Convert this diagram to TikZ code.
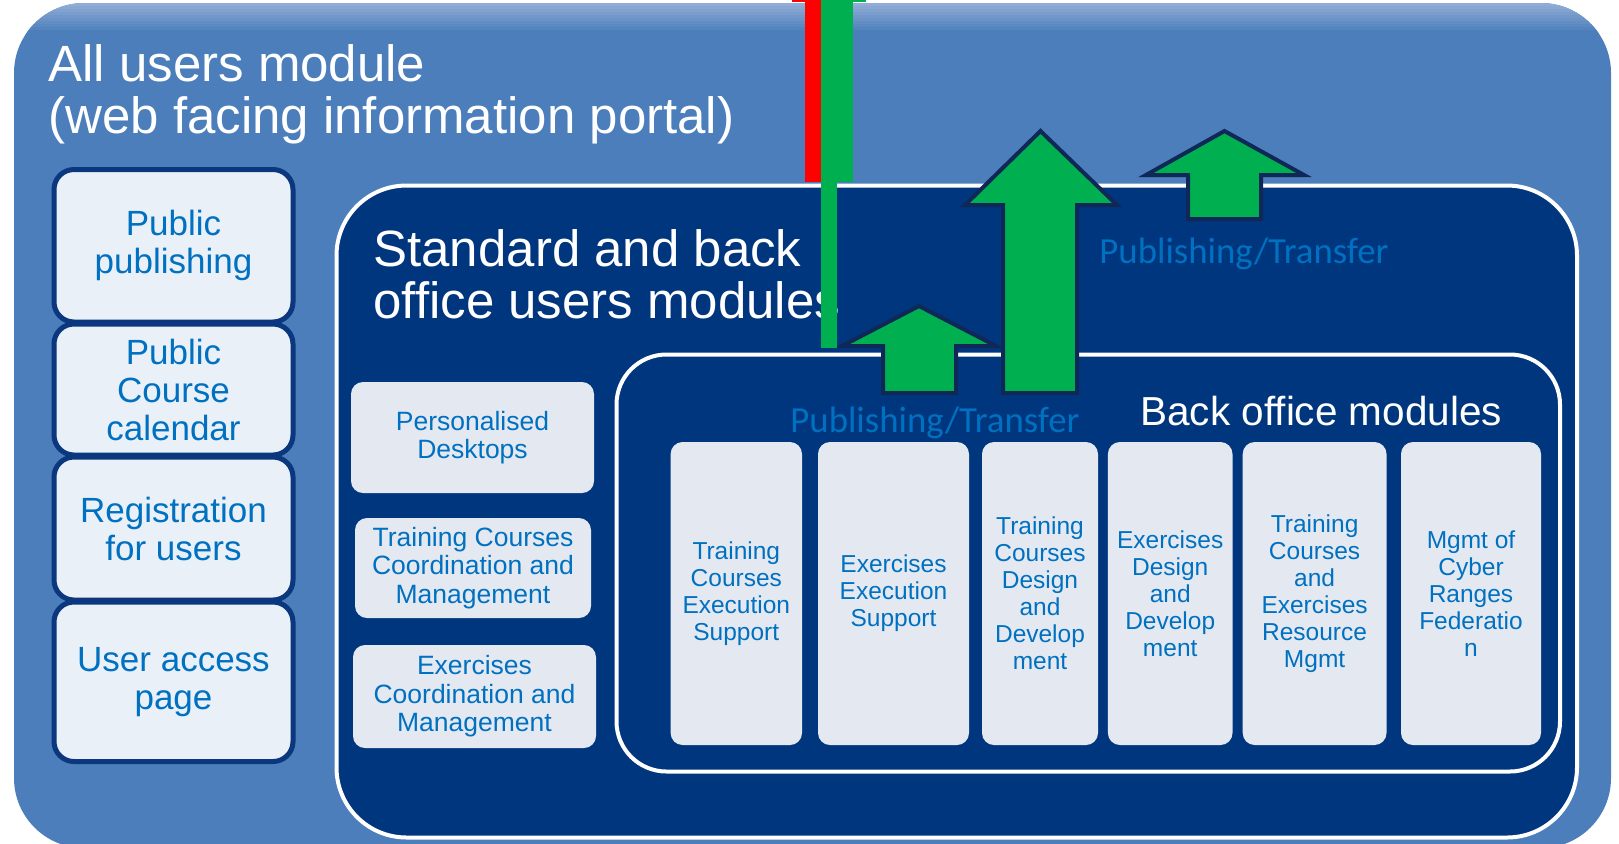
\documentclass[tikz,border=0pt]{standalone}
\usepackage{fontspec}
\setmainfont{Liberation Sans}
\newfontfamily\pubfont{Carlito}
\usepackage{tikz}
\definecolor{portalblue}{RGB}{75,126,186}
\definecolor{portaltop}{RGB}{145,172,214}
\definecolor{officenavy}{RGB}{0,54,126}
\definecolor{tileface}{RGB}{228,233,241}
\definecolor{pageface}{RGB}{234,240,248}
\definecolor{tiletext}{RGB}{0,112,192}
\definecolor{framenavy}{RGB}{10,55,125}
\definecolor{pubgreen}{RGB}{0,176,80}
\definecolor{arrowline}{RGB}{16,40,88}
\definecolor{markred}{RGB}{255,0,0}

\begin{document}
\begin{tikzpicture}[x=0.5pt,y=-0.5pt,
  pagebox/.style={draw=framenavy, line width=2.5pt, fill=pageface, rounded corners=10pt, minimum width=119.5pt, inner sep=2pt, text=tiletext, align=center, font=\fontsize{17.5}{19}\selectfont},
  deskbox/.style={fill=tileface, rounded corners=6pt, inner sep=2pt, text=tiletext, align=center, font=\fontsize{13.25}{14.2}\selectfont},
  backbox/.style={fill=tileface, rounded corners=6pt, minimum height=151.5pt, inner sep=2pt, text=tiletext, align=center, font=\fontsize{12.25}{13.5}\selectfont},
  flowarrow/.style={fill=pubgreen, draw=arrowline, line width=2pt, line join=miter},
  flowlabel/.style={anchor=base west, inner sep=0pt, text=tiletext, font=\pubfont\fontsize{18.4}{20}\selectfont},
  heading/.style={text=white, inner sep=0pt}]
\useasboundingbox (0,0) rectangle (1619,843);
\fill[white] (0,0) rectangle (1619,843);

% All users module
\node[fill=portalblue, rounded corners=35pt, minimum width=798.5pt, minimum height=422.5pt] (allusers) at (812.5,425.5) {};
\begin{scope}
  \clip[rounded corners=35pt] (14,3) rectangle (1611,848);
  \foreach \k [evaluate=\k as \mix using int(\k*11)] in {0,...,9}
    \fill[portalblue!\mix!portaltop] (14,{3+3*\k}) rectangle (1611,{6.5+3*\k});
\end{scope}
\node[heading, anchor=north west, align=left, font=\fontsize{25.5}{26.3}\selectfont] (alltitle) at (48,44) {All users module\\(web facing information portal)};

% Public pages
\node[pagebox, minimum height=76.25pt] (pubpublish) at (173.5,245.75) {Public\\publishing};
\node[pagebox, minimum height=65.5pt] (pubcalendar) at (173.5,389.5) {Public\\Course\\calendar};
\node[pagebox, minimum height=71.5pt] (registration) at (173.5,528.5) {Registration\\for users};
\node[pagebox, minimum height=79.75pt] (useraccess) at (173.5,681.75) {User access\\page};

% Standard and back office users modules
\node[fill=officenavy, draw=white, line width=2pt, rounded corners=35pt, minimum width=620.25pt, minimum height=326pt] (stdoffice) at (956.75,511.5) {};
\node[heading, anchor=north west, align=left, font=\fontsize{25.5}{26.3}\selectfont] (stdtitle) at (373,229) {Standard and back\\office users modules};
\node[flowlabel] (flowhigh) at (1099,263) {Publishing/Transfer};

\node[deskbox, minimum width=121.5pt, minimum height=55.5pt] (desktops) at (472.5,437.5) {Personalised\\Desktops};
\node[deskbox, minimum width=118pt, minimum height=50pt] (coursecoord) at (473,568) {Training Courses\\Coordination and\\Management};
\node[deskbox, minimum width=121.5pt, minimum height=51.5pt] (exercisecoord) at (474.5,696.5) {Exercises\\Coordination and\\Management};

% Back office modules
\node[fill=officenavy, draw=white, line width=2pt, rounded corners=25pt, minimum width=471.75pt, minimum height=208.5pt] (backoffice) at (1088.25,563) {};
\node[heading, anchor=base west, font=\fontsize{20.25}{22}\selectfont] (backtitle) at (1140,425) {Back office modules};
\node[flowlabel] (flowlow) at (790,432) {Publishing/Transfer};

\node[backbox, minimum width=65.7pt] (courseexec) at (736.3,593.5) {Training\\Courses\\Execution\\Support};
\node[backbox, minimum width=75.5pt] (exerciseexec) at (893.5,593.5) {Exercises\\Execution\\Support};
\node[backbox, minimum width=58pt] (coursedesign) at (1040,593.5) {Training\\Courses\\Design\\and\\Develop\\ment};
\node[backbox, minimum width=62.3pt] (exercisedesign) at (1170.2,593.5) {Exercises\\Design\\and\\Develop\\ment};
\node[backbox, minimum width=71.9pt] (resourcemgmt) at (1314.6,593.5) {Training\\Courses\\and\\Exercises\\Resource\\Mgmt};
\node[backbox, minimum width=70pt] (cyberranges) at (1471,593.5) {Mgmt of\\Cyber\\Ranges\\Federatio\\n};

% Publishing arrows
\draw[flowarrow] (883,393) -- (883,346) -- (842,346) -- (919,306) -- (996,346) -- (956,346) -- (956,393) -- cycle;
\draw[flowarrow] (1003,393) -- (1003,205) -- (965,205) -- (1040.5,131) -- (1117,205) -- (1077,205) -- (1077,393) -- cycle;
\draw[flowarrow] (1188,219) -- (1188,175) -- (1146,175) -- (1224.5,131) -- (1304,175) -- (1261,175) -- (1261,219) -- cycle;

% Marker bars
\fill[markred] (792,0) rectangle (805,2);
\fill[markred] (805,0) rectangle (821,182);
\fill[pubgreen] (853,0) rectangle (866,2);
\fill[pubgreen] (821,0) rectangle (853,182);
\fill[pubgreen] (821,182) rectangle (837,348);
\end{tikzpicture}
\end{document}
